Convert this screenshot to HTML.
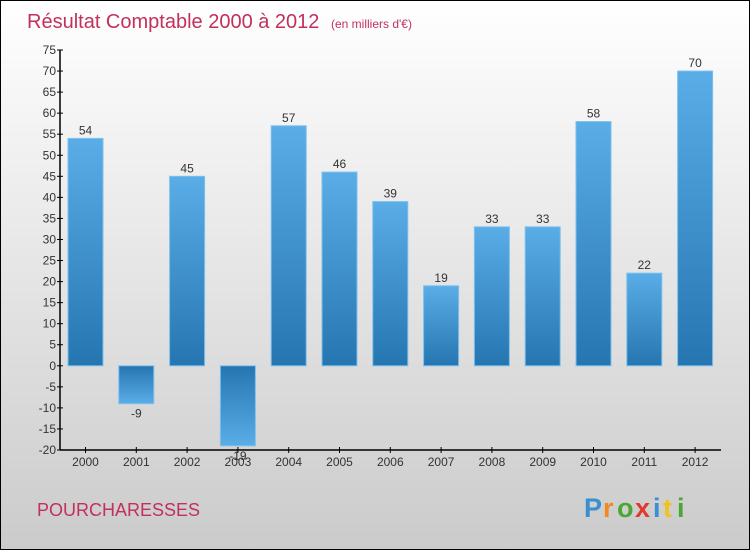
<!DOCTYPE html>
<html><head><meta charset="utf-8"><style>
html,body{margin:0;padding:0}
body{width:750px;height:550px;overflow:hidden;font-family:"Liberation Sans",sans-serif}
#wrap{position:absolute;left:0;top:0;width:748px;height:548px;border:1px solid #000;background:linear-gradient(#fff,#cbcbcb)}
</style></head><body>
<div id="wrap">
<svg id="chart" width="748" height="548">
<defs>
<linearGradient id="gpos" x1="0" y1="0" x2="0" y2="1"><stop offset="0" stop-color="#5aade6"/><stop offset="1" stop-color="#2575b1"/></linearGradient>
<linearGradient id="gneg" x1="0" y1="0" x2="0" y2="1"><stop offset="0" stop-color="#2575b1"/><stop offset="1" stop-color="#5aade6"/></linearGradient>
</defs>
<text x="26" y="27" font-size="20" fill="#c2305c">Résultat Comptable 2000 à 2012 <tspan font-size="12" dx="6">(en milliers d'€)</tspan></text>
<text x="36" y="515" font-size="18" fill="#c2305c">POURCHARESSES</text>
<g font-size="27" font-weight="bold">
<text x="583" y="516" fill="#3a8fd0">P</text><text x="602" y="516" fill="#f08a1c">r</text><text x="616" y="516" fill="#4aa832">o</text><text x="634" y="516" fill="#e03a2e">x</text><text x="652" y="516" fill="#3a8fd0">i</text><text x="662" y="516" fill="#f0c31c">t</text><text x="676" y="516" fill="#4aa832">i</text>
</g>
<g id="plot"></g>
</svg>
</div>
<script>
const categories=["2000","2001","2002","2003","2004","2005","2006","2007","2008","2009","2010","2011","2012"];
const values=[54,-9,45,-19,57,46,39,19,33,33,58,22,70];
const yTicks=[-20,-15,-10,-5,0,5,10,15,20,25,30,35,40,45,50,55,60,65,70,75];
const NS="http://www.w3.org/2000/svg";
const g=document.getElementById('plot');
const x0=59,y0=449,yTop=49,yMin=-20,yMax=75;
function y(v){return y0-(v-yMin)*(y0-yTop)/(yMax-yMin);}
function xc(i){return 84.5+i*50.8;}
function el(t,a){const e=document.createElementNS(NS,t);for(const k in a)e.setAttribute(k,a[k]);g.appendChild(e);return e;}
const ax=el('line',{x1:x0,y1:yTop,x2:x0,y2:y0,stroke:'#000','stroke-width':1.5});


const bx=el('line',{x1:x0,y1:y0,x2:720,y2:y0,stroke:'#000','stroke-width':1.5});


yTicks.forEach(v=>{
 const t=el('line',{x1:x0-3,y1:y(v),x2:x0+3,y2:y(v),stroke:'#000'});
 
 
 const l=el('text',{x:x0-4,y:y(v)+4,'font-size':12,'text-anchor':'end',fill:'#333'});
 l.textContent=v;
 
 
});
categories.forEach((c,i)=>{
 const v=values[i],cx=xc(i),w=35;
 const top=Math.min(y(v),y(0)),h=Math.abs(y(v)-y(0));
 const r=el('rect',{x:cx-w/2,y:top,width:w,height:h,fill:v>=0?'url(#gpos)':'url(#gneg)',stroke:'#7cc0ee','stroke-width':1});
 
 
 const t=el('line',{x1:cx,y1:y0-3,x2:cx,y2:y0+3,stroke:'#000'});
 
 
 const l=el('text',{x:cx,y:y0+16,'font-size':12,'text-anchor':'middle',fill:'#333'});
 l.textContent=c;
 
 
 const vl=el('text',{x:cx,y:v>=0?y(v)-4:y(v)+14,'font-size':12,'text-anchor':'middle',fill:'#333'});
 vl.textContent=v;
 
 
});
</script>
</body></html>
